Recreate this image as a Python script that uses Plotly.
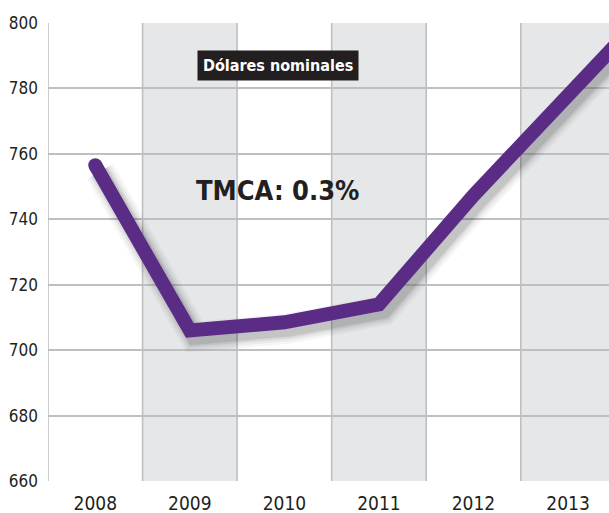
import plotly.graph_objects as go

# ---- data ----
years = ["2008", "2009", "2010", "2011", "2012", "2013", "2014"]
values = [756.5, 706.0, 708.5, 714.0, 747.3, 778.0, 808.5]   # 2014 lies beyond the visible edge
shaded_years = ["2009", "2011", "2013"]
y_ticks = [660, 680, 700, 720, 740, 760, 780, 800]
title_box = "Dólares nominales"
tmca_text = "TMCA: 0.3%"

LINE = "#5B2C86"
GRID = "#BEBFC1"
SHADE = "#E6E7E9"
TEXT = "#231F20"
TICKFONT = "DejaVu Sans Condensed, Roboto, sans-serif"

xi = list(range(len(years)))
visible_cats = 6
fig = go.Figure()

# shaded alternate columns
shapes = []
for y in shaded_years:
    i = years.index(y)
    shapes.append(dict(type="rect", xref="x", yref="y", x0=i - 0.5, x1=i + 0.5,
                       y0=y_ticks[0], y1=y_ticks[-1], fillcolor=SHADE,
                       line=dict(width=0), layer="below"))
# vertical grid lines between categories
for k in range(visible_cats + 1):
    shapes.append(dict(type="line", xref="x", yref="y", x0=k - 0.5, x1=k - 0.5,
                       y0=y_ticks[0], y1=y_ticks[-1],
                       line=dict(color=GRID, width=1.6), layer="below"))

# soft shadow (offset copies of the series)
dx, dy = 0.05, 1.9
for w, op in [(30, 0.03), (25, 0.045), (20, 0.065), (16, 0.09)]:
    fig.add_trace(go.Scatter(
        x=[v + dx for v in xi], y=[v - dy for v in values], mode="lines",
        line=dict(color="black", width=w), opacity=op,
        hoverinfo="skip", showlegend=False))

# main line
fig.add_trace(go.Scatter(
    x=xi, y=values, mode="lines",
    line=dict(color=LINE, width=14),
    showlegend=False))
# round start cap
fig.add_trace(go.Scatter(
    x=xi[:1], y=values[:1], mode="markers",
    marker=dict(color=LINE, size=14, opacity=1, line=dict(width=0)),
    showlegend=False, hoverinfo="skip"))

fig.add_annotation(x=1.93, y=787.0, xref="x", yref="y", text="<b>" + title_box + "</b>",
                   showarrow=False, bgcolor=TEXT, borderpad=5,
                   font=dict(family="DejaVu Sans Condensed", size=16, color="white"))
fig.add_annotation(x=1.93, y=748.8, xref="x", yref="y", text="<b>" + tmca_text + "</b>",
                   showarrow=False,
                   font=dict(family="DejaVu Sans Condensed", size=27, color=TEXT))

fig.update_layout(
    width=609, height=513,
    margin=dict(l=48, r=0, t=23, b=32),
    paper_bgcolor="white", plot_bgcolor="white",
    shapes=shapes,
    xaxis=dict(range=[-0.5, visible_cats - 0.5 - 0.067], automargin=False,
               tickmode="array", tickvals=xi[:visible_cats], ticktext=years[:visible_cats],
               showgrid=False, zeroline=False, ticks="", ticklabelstandoff=9,
               showline=False,
               tickfont=dict(family=TICKFONT, size=19, color=TEXT)),
    yaxis=dict(range=[y_ticks[0], y_ticks[-1]], tickmode="array", tickvals=y_ticks,
               automargin=False,
               showgrid=True, gridcolor=GRID, gridwidth=1.6, zeroline=False,
               showline=False, ticks="", ticklabelstandoff=9,
               tickfont=dict(family=TICKFONT, size=17, color=TEXT)),
)

fig.write_html("out.html", config={"displayModeBar": False},
               post_script="document.body.style.margin='0';document.body.style.overflow='hidden';")
